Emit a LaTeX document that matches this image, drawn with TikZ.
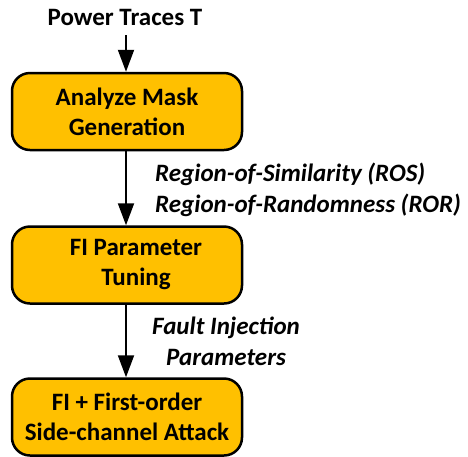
\documentclass[tikz,border=0pt]{standalone}
\usepackage{fontspec}
\setmainfont{Carlito}
\usetikzlibrary{arrows.meta}
\begin{document}
\begin{tikzpicture}[x=1pt,y=-1pt,
  stage/.style={draw=black, line width=2.5pt, fill=gold, rounded corners=18pt,
    minimum width=230pt, minimum height=77pt, align=center,
    font=\fontsize{25}{30}\selectfont\bfseries, inner sep=0pt},
  flow/.style={line width=2pt, -{Triangle[length=22pt,width=16pt]}},
  note/.style={font=\fontsize{25}{31}\selectfont\bfseries\itshape, align=center, inner sep=0pt}]
\definecolor{gold}{HTML}{FFC000}
\useasboundingbox (0,0) rectangle (468,456);
\node[font=\fontsize{25}{30}\selectfont\bfseries, inner sep=0pt] (src) at (125,17) {Power Traces T};
\node[stage] (mask) at (127,111.5) {Analyze Mask\\Generation};
\node[stage] (tune) at (127,265) {\hspace*{18pt}FI Parameter\\\hspace*{18pt}Tuning};
\node[stage] (atk) at (127,417) {FI + First-order\\Side-channel Attack};
\coordinate (top) at (126,35);
\draw[flow] (top) -- (mask.north -| top);
\draw[flow] (mask.south -| top) -- (tune.north -| top);
\draw[flow] (tune.south -| top) -- (atk.north -| top);
\node[note, anchor=west] (ros) at (155,174) {Region-of-Similarity (ROS)};
\node[note, anchor=west] (ror) at (155,205) {Region-of-Randomness (ROR)};
\node[note] (fip) at (226,341.5) {Fault Injection\\Parameters};
\end{tikzpicture}
\end{document}
